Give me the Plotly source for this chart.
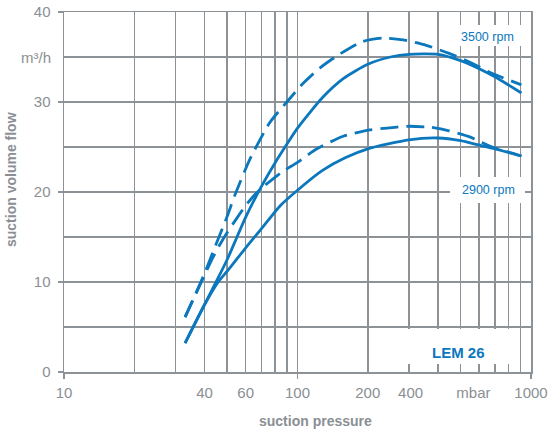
import plotly.graph_objects as go

# ---- data ----
x_3500_solid = [33, 43, 50, 60, 70, 80, 90, 100, 128, 157, 200, 250, 300, 400, 500, 600, 700, 800, 910]
y_3500_solid = [3.2, 9.1, 12.5, 17.2, 20.6, 23.2, 25.3, 27.1, 30.5, 32.6, 34.2, 35.0, 35.3, 35.3, 34.6, 33.7, 32.8, 31.9, 31.0]

x_2900_solid = [33, 40, 46, 50, 60, 70, 84.5, 100, 128, 160, 200, 300, 400, 500, 600, 700, 800, 910]
y_2900_solid = [3.2, 7.5, 10.1, 11.2, 13.8, 15.9, 18.5, 20.2, 22.4, 23.8, 24.8, 25.8, 26.0, 25.7, 25.2, 24.8, 24.4, 24.0]

x_3500_dash = [33, 37.2, 40.2, 43.4, 46.6, 50, 54, 62.7, 76, 90, 106, 125, 147, 189, 233, 283, 356, 446, 550, 665, 910]
y_3500_dash = [6.1, 9.1, 11.1, 13.3, 15.3, 17.3, 19.7, 23.7, 27.7, 30.0, 32.1, 33.8, 35.1, 36.7, 37.1, 36.9, 36.3, 35.4, 34.4, 33.3, 31.9]

x_2900_dash = [33, 37.2, 40.2, 43.4, 46.6, 50, 55, 60, 65.6, 70, 84.5, 100, 121, 157, 204, 242, 294, 370, 446, 550, 665, 785, 910]
y_2900_dash = [6.1, 9.0, 10.9, 12.7, 14.2, 15.5, 17.1, 18.5, 19.7, 20.4, 22.1, 23.3, 24.8, 26.2, 26.9, 27.1, 27.3, 27.2, 26.8, 26.1, 25.1, 24.5, 24.0]

x_label_vals = [10, 40, 60, 100, 200, 305, 567, 1000]
x_label_text = ["10", "40", "60", "100", "200", "400", "mbar", "1000"]
x_major = [10, 100, 1000]
x_minor = [20, 30, 40, 50, 60, 70, 80, 90, 200, 300, 400, 500, 600, 700, 800, 900]
y_ticks = [0, 10, 20, 30, 40]

BLUE = "#0b77bd"
GRAY = "#8d9297"
TXT = "#8a8f94"
FONT = "Liberation Sans, Arial, sans-serif"

W, H = 549, 432
L, R, T, B = 64, 18, 12, 60
PL, PT = L, T
PW, PH = W - L - R, H - T - B

def px2paper(px, py):
    return (px - PL) / PW, (PT + PH - py) / PH

fig = go.Figure()
for xs, ys, dash in [
    (x_3500_dash, y_3500_dash, "18px,8px"),
    (x_2900_dash, y_2900_dash, "18px,8px"),
    (x_3500_solid, y_3500_solid, "solid"),
    (x_2900_solid, y_2900_solid, "solid"),
]:
    fig.add_trace(go.Scatter(x=xs, y=ys, mode="lines",
                             line=dict(color=BLUE, width=2.8, dash=dash, shape="spline", smoothing=0.6),
                             showlegend=False, hoverinfo="skip"))

# carrier trace for the labelled x axis (no visible marks)
fig.add_trace(go.Scatter(x=x_label_vals, y=[None] * len(x_label_vals), xaxis="x2", yaxis="y",
                         mode="lines", showlegend=False, hoverinfo="skip"))

# white label boxes
shapes = []
for (x0, y0, x1, y1) in [(455, 25, 525, 46), (450, 177, 525, 203), (405, 329, 518, 364)]:
    a0, b0 = px2paper(x0, y1)
    a1, b1 = px2paper(x1, y0)
    shapes.append(dict(type="rect", xref="paper", yref="paper", x0=a0, x1=a1, y0=b0, y1=b1,
                       fillcolor="white", line=dict(width=0), layer="above"))

ann = []
def add_text(text, px, py, size, color, bold=False, angle=0, xanchor="center"):
    ax, ay = px2paper(px, py)
    ann.append(dict(text=text, x=ax, y=ay, xref="paper", yref="paper", showarrow=False,
                    xanchor=xanchor, yanchor="middle", textangle=angle,
                    font=dict(family=FONT, size=size, color=color, weight="bold" if bold else "normal")))

add_text("3500 rpm", 487, 37, 12.5, BLUE)
add_text("2900 rpm", 488, 190, 12.5, BLUE)
add_text("LEM 26", 458, 352, 15, BLUE, bold=True)
add_text("m³/h", 53, 57, 15, TXT, xanchor="right")
add_text("suction pressure", 315, 421, 14, TXT, bold=True)
add_text("suction volume flow", 11, 180, 14, TXT, bold=True, angle=-90)

fig.update_layout(
    width=W, height=H, margin=dict(l=L, r=R, t=T, b=B, autoexpand=False),
    paper_bgcolor="white", plot_bgcolor="white",
    font=dict(family=FONT, size=15, color=TXT),
    shapes=shapes, annotations=ann,
    xaxis=dict(type="log", range=[1, 3], tickvals=x_major, showticklabels=False,
               ticks="outside", ticklen=5, tickwidth=1.5, tickcolor=GRAY,
               showgrid=True, gridcolor=GRAY, gridwidth=1.5, automargin=False,
               minor=dict(tickvals=x_minor, showgrid=True, gridcolor=GRAY, gridwidth=1.5, ticks=""),
               showline=True, mirror=True, linecolor=GRAY, linewidth=1.5, zeroline=False),
    xaxis2=dict(type="log", range=[1, 3], overlaying="x", anchor="y", side="bottom",
                tickvals=x_label_vals, ticktext=x_label_text, ticks="", showgrid=False,
                showline=False, zeroline=False, ticklabelstandoff=10, automargin=False,
                tickfont=dict(family=FONT, size=15, color=TXT)),
    yaxis=dict(range=[0, 40], tickvals=y_ticks, ticks="outside", ticklen=5, tickwidth=1.5,
               tickcolor=GRAY, showgrid=True, gridcolor=GRAY, gridwidth=1.5, automargin=False,
               minor=dict(tick0=0, dtick=5, showgrid=True, gridcolor=GRAY, gridwidth=1.5, ticks=""),
               showline=True, mirror=True, linecolor=GRAY, linewidth=1.5, zeroline=False,
               ticklabelstandoff=4, tickfont=dict(family=FONT, size=15, color=TXT)),
)

fig.write_html("out.html", config={"displayModeBar": False, "staticPlot": True},
               post_script="document.body.style.margin='0';")
